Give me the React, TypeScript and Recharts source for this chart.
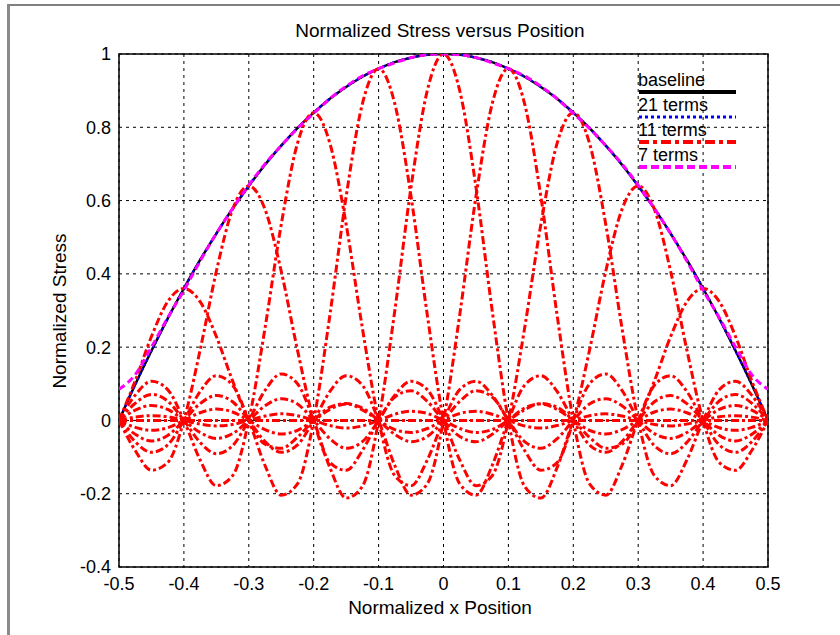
import { LineChart, Line, XAxis, YAxis, CartesianGrid, ReferenceArea } from 'recharts';

// x positions (normalized)
const xs = [
  -0.5, -0.475, -0.45, -0.425, -0.4, -0.375, -0.35, -0.325, -0.3, -0.275, -0.25,
  -0.225, -0.2, -0.175, -0.15, -0.125, -0.1, -0.075, -0.05, -0.025, 0,
  0.025, 0.05, 0.075, 0.1, 0.125, 0.15, 0.175, 0.2, 0.225, 0.25,
  0.275, 0.3, 0.325, 0.35, 0.375, 0.4, 0.425, 0.45, 0.475, 0.5,
];

const baseline = [
  0, 0.098, 0.19, 0.278, 0.36, 0.438, 0.51, 0.578, 0.64, 0.698, 0.75,
  0.798, 0.84, 0.878, 0.91, 0.938, 0.96, 0.978, 0.99, 0.998, 1,
  0.998, 0.99, 0.978, 0.96, 0.938, 0.91, 0.878, 0.84, 0.798, 0.75,
  0.698, 0.64, 0.578, 0.51, 0.438, 0.36, 0.278, 0.19, 0.098, 0,
];

const terms21 = [
  0, 0.098, 0.19, 0.278, 0.36, 0.438, 0.51, 0.578, 0.64, 0.698, 0.75,
  0.798, 0.84, 0.878, 0.91, 0.938, 0.96, 0.978, 0.99, 0.998, 1,
  0.998, 0.99, 0.978, 0.96, 0.938, 0.91, 0.878, 0.84, 0.798, 0.75,
  0.698, 0.64, 0.578, 0.51, 0.438, 0.36, 0.278, 0.19, 0.098, 0,
];

const terms7 = [
  0.085, 0.125, 0.2, 0.28, 0.355, 0.435, 0.51, 0.578, 0.642, 0.7, 0.75,
  0.797, 0.838, 0.878, 0.912, 0.94, 0.96, 0.976, 0.99, 0.998, 1,
  0.998, 0.99, 0.976, 0.96, 0.94, 0.912, 0.878, 0.838, 0.797, 0.75,
  0.7, 0.642, 0.578, 0.51, 0.435, 0.355, 0.28, 0.2, 0.125, 0.085,
];

// individual terms of the 11 term expansion, centred on each node
const termEdge = [
  0, 0, 0, 0, 0, 0, 0, 0, 0, 0, 0, 0, 0, 0, 0, 0, 0, 0, 0, 0, 0,
  0, 0, 0, 0, 0, 0, 0, 0, 0, 0, 0, 0, 0, 0, 0, 0, 0, 0, 0, 0,
];
const termM4 = [0, 0.108, 0.229, 0.324, 0.36, 0.324, 0.229, 0.108, 0, -0.065, -0.076, -0.046, 0, 0.036, 0.046, 0.029, 0, -0.025, -0.033, -0.022, 0, 0.019, 0.025, 0.017, 0, -0.015, -0.021, -0.014, 0, 0.013, 0.018, 0.012, 0, -0.011, -0.015, -0.01, 0, 0.01, 0.013, 0.009, 0];
const termM3 = [0, -0.082, -0.136, -0.115, 0, 0.192, 0.407, 0.576, 0.64, 0.576, 0.407, 0.192, 0, -0.115, -0.136, -0.082, 0, 0.064, 0.081, 0.052, 0, -0.044, -0.058, -0.038, 0, 0.034, 0.045, 0.03, 0, -0.027, -0.037, -0.025, 0, 0.023, 0.031, 0.021, 0, -0.02, -0.027, -0.019, 0];
const termM2 = [0, 0.069, 0.107, 0.084, 0, -0.108, -0.178, -0.151, 0, 0.252, 0.535, 0.756, 0.84, 0.756, 0.535, 0.252, 0, -0.151, -0.178, -0.108, 0, 0.084, 0.107, 0.069, 0, -0.058, -0.076, -0.05, 0, 0.045, 0.059, 0.04, 0, -0.036, -0.049, -0.033, 0, 0.03, 0.041, 0.028, 0];
const termM1 = [0, -0.058, -0.087, -0.067, 0, 0.079, 0.122, 0.096, 0, -0.123, -0.204, -0.173, 0, 0.288, 0.611, 0.864, 0.96, 0.864, 0.611, 0.288, 0, -0.173, -0.204, -0.123, 0, 0.096, 0.122, 0.079, 0, -0.067, -0.087, -0.058, 0, 0.051, 0.068, 0.046, 0, -0.041, -0.056, -0.038, 0];
const term0 = [0, 0.047, 0.071, 0.053, 0, -0.06, -0.091, -0.069, 0, 0.082, 0.127, 0.1, 0, -0.129, -0.212, -0.18, 0, 0.3, 0.637, 0.9, 1, 0.9, 0.637, 0.3, 0, -0.18, -0.212, -0.129, 0, 0.1, 0.127, 0.082, 0, -0.069, -0.091, -0.06, 0, 0.053, 0.071, 0.047, 0];
const termP1 = [0, -0.038, -0.056, -0.041, 0, 0.046, 0.068, 0.051, 0, -0.058, -0.087, -0.067, 0, 0.079, 0.122, 0.096, 0, -0.123, -0.204, -0.173, 0, 0.288, 0.611, 0.864, 0.96, 0.864, 0.611, 0.288, 0, -0.173, -0.204, -0.123, 0, 0.096, 0.122, 0.079, 0, -0.067, -0.087, -0.058, 0];
const termP2 = [0, 0.028, 0.041, 0.03, 0, -0.033, -0.049, -0.036, 0, 0.04, 0.059, 0.045, 0, -0.05, -0.076, -0.058, 0, 0.069, 0.107, 0.084, 0, -0.108, -0.178, -0.151, 0, 0.252, 0.535, 0.756, 0.84, 0.756, 0.535, 0.252, 0, -0.151, -0.178, -0.108, 0, 0.084, 0.107, 0.069, 0];
const termP3 = [0, -0.019, -0.027, -0.02, 0, 0.021, 0.031, 0.023, 0, -0.025, -0.037, -0.027, 0, 0.03, 0.045, 0.034, 0, -0.038, -0.058, -0.044, 0, 0.052, 0.081, 0.064, 0, -0.082, -0.136, -0.115, 0, 0.192, 0.407, 0.576, 0.64, 0.576, 0.407, 0.192, 0, -0.115, -0.136, -0.082, 0];
const termP4 = [0, 0.009, 0.013, 0.01, 0, -0.01, -0.015, -0.011, 0, 0.012, 0.018, 0.013, 0, -0.014, -0.021, -0.015, 0, 0.017, 0.025, 0.019, 0, -0.022, -0.033, -0.025, 0, 0.029, 0.046, 0.036, 0, -0.046, -0.076, -0.065, 0, 0.108, 0.229, 0.324, 0.36, 0.324, 0.229, 0.108, 0];

const termSeries = [termEdge, termM4, termM3, termM2, termM1, term0, termP1, termP2, termP3, termP4];

const xTicks = [-0.5, -0.4, -0.3, -0.2, -0.1, 0, 0.1, 0.2, 0.3, 0.4, 0.5];
const yTicks = [-0.4, -0.2, 0, 0.2, 0.4, 0.6, 0.8, 1];
const legendLabels = ['baseline', '21 terms', '11 terms', '7 terms'];

const FONT = '"Liberation Sans", Arial, sans-serif';
const RED_DASH = '8 3 3 3';

const data = xs.map((x, i) => {
  const row: Record<string, number> = { x, baseline: baseline[i], t21: terms21[i], t7: terms7[i] };
  termSeries.forEach((arr, j) => { row[`term${j}`] = arr[i]; });
  return row;
});

const legendStyles = [
  { stroke: '#000000', dash: undefined, width: 4 },
  { stroke: '#0000ff', dash: '3 3', width: 3 },
  { stroke: '#ff0000', dash: '10 4 4 4', width: 4 },
  { stroke: '#ff00ff', dash: '8 4', width: 4 },
];

// legend drawn without a box, text sitting above each line sample
const LegendBox = () => (
  <svg width={112} height={104} style={{ position: 'absolute', left: 636, top: 70 }}>
    {legendLabels.map((label, i) => (
      <g key={label}>
        <text x={2} y={16 + i * 25} fontSize={18} fontFamily={FONT} fill="#000">{label}</text>
        <line
          x1={3} x2={100} y1={22 + i * 25} y2={22 + i * 25}
          stroke={legendStyles[i].stroke}
          strokeWidth={legendStyles[i].width}
          strokeDasharray={legendStyles[i].dash}
        />
      </g>
    ))}
  </svg>
);

const textStyle = { position: 'absolute' as const, fontFamily: FONT, fontSize: 19, color: '#000', whiteSpace: 'nowrap' as const, lineHeight: '22px' };

export default function App() {
  return (
    <div style={{ position: 'absolute', left: 0, top: 0, width: 840, height: 635, background: '#fff', overflow: 'hidden' }}>
      {/* figure window edge */}
      <div style={{ position: 'absolute', left: 7, top: 4, right: 0, bottom: 0, borderTop: '2px solid #808080', borderLeft: '3px solid #8a8a8a' }} />
      <LineChart width={840} height={635} data={data} margin={{ top: 54, right: 72, bottom: 38, left: 59 }}>
        <CartesianGrid stroke="#000" strokeDasharray="3 4" />
        <XAxis
          type="number" dataKey="x" domain={[-0.5, 0.5]} ticks={xTicks}
          axisLine={false} tickLine={false} tickMargin={4} height={30}
          tick={{ fill: '#000', fontSize: 18, fontFamily: FONT }}
          allowDataOverflow
        />
        <YAxis
          type="number" domain={[-0.4, 1]} ticks={yTicks}
          axisLine={false} tickLine={false} width={60}
          tick={{ fill: '#000', fontSize: 18, fontFamily: FONT }}
          allowDataOverflow
        />
        <Line type="monotone" dataKey="baseline" stroke="#000" strokeWidth={2.5} dot={false} isAnimationActive={false} />
        <Line type="monotone" dataKey="t21" stroke="#0000ff" strokeWidth={2.5} strokeDasharray="2 3" dot={false} isAnimationActive={false} />
        {termSeries.map((_, j) => (
          <Line
            key={j} type="monotone" dataKey={`term${j}`} stroke="#ff0000" strokeWidth={3}
            strokeDasharray={RED_DASH} dot={false} isAnimationActive={false}
          />
        ))}
        <Line type="monotone" dataKey="t7" stroke="#ff00ff" strokeWidth={3} strokeDasharray="7 4" dot={false} isAnimationActive={false} />
        <ReferenceArea x1={-0.5} x2={0.5} y1={-0.4} y2={1} fill="none" stroke="#000" strokeWidth={1.5} ifOverflow="visible" />
      </LineChart>
      <LegendBox />
      <div style={{ ...textStyle, left: 0, width: 880, top: 20, textAlign: 'center' }}>Normalized Stress versus Position</div>
      <div style={{ ...textStyle, left: 0, width: 880, top: 597, textAlign: 'center' }}>Normalized x Position</div>
      <div style={{ ...textStyle, left: 60, top: 311, transform: 'translate(-50%, -50%) rotate(-90deg)' }}>Normalized Stress</div>
    </div>
  );
}
